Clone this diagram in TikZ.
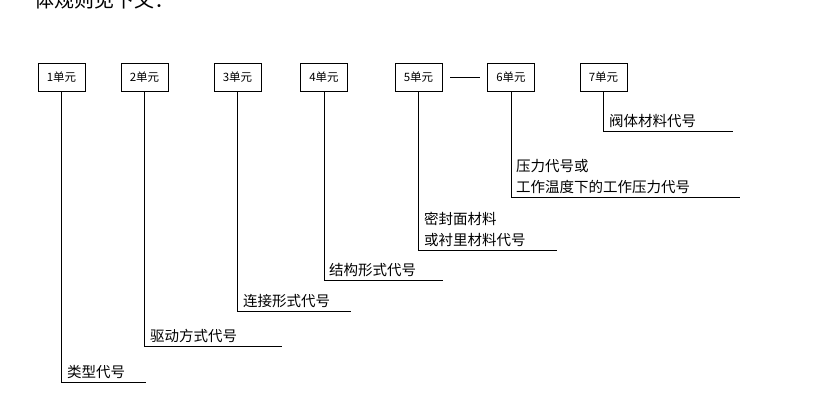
\documentclass[tikz,border=0pt]{standalone}
\usepackage{fontspec}
\newfontfamily\cjk{Noto Sans CJK SC}
\begin{document}
\begin{tikzpicture}[x=1pt,y=-1pt,
 unit/.style={draw,line width=0.9pt,minimum width=47pt,minimum height=28pt,inner sep=0pt,font=\cjk\fontsize{11.5}{11.5}\selectfont},
 lab/.style={anchor=south west,inner sep=1pt,font=\cjk\fontsize{14.5}{17}\selectfont,align=left},
 ln/.style={line width=0.8pt}]
\useasboundingbox (0,0) rectangle (831,403);
\begin{scope}
\clip (0,0) rectangle (831,403);
\node[anchor=base west,font=\cjk\fontsize{20}{20}\selectfont,inner sep=0pt] (hd) at (34,8) {体规则见下文：};
\end{scope}
\node[unit] (u1) at (61.5,77) {1单元};
\node[unit] (u2) at (144.5,77) {2单元};
\node[unit] (u3) at (237.5,77) {3单元};
\node[unit] (u4) at (324,77) {4单元};
\node[unit] (u5) at (418.5,77) {5单元};
\node[unit] (u6) at (511,77) {6单元};
\node[unit] (u7) at (603.5,77) {7单元};
\draw[ln] ([xshift=8pt]u5.east) -- ([xshift=-7pt]u6.west);
\coordinate (c1) at (61.5,382); \coordinate (e1) at (146,382);
\coordinate (c2) at (144.5,346); \coordinate (e2) at (282,346);
\coordinate (c3) at (237.5,311); \coordinate (e3) at (351,311);
\coordinate (c4) at (324,280); \coordinate (e4) at (443,280);
\coordinate (c5) at (418.5,250); \coordinate (e5) at (557,250);
\coordinate (c6) at (511,197); \coordinate (e6) at (740,197);
\coordinate (c7) at (603.5,131); \coordinate (e7) at (733,131);
\foreach \i in {1,...,7}{\draw[ln] (u\i.south) -- (c\i) -- (e\i);}
\node[lab] (t1) at (66,380) {类型代号};
\node[lab] (t2) at (149,344) {驱动方式代号};
\node[lab] (t3) at (242,309) {连接形式代号};
\node[lab] (t4) at (328,278) {结构形式代号};
\node[lab] (t5) at (423,248) {密封面材料\\[4pt]或衬里材料代号};
\node[lab] (t6) at (515,195) {压力代号或\\[4pt]工作温度下的工作压力代号};
\node[lab] (t7) at (608,129) {阀体材料代号};
\end{tikzpicture}
\end{document}
